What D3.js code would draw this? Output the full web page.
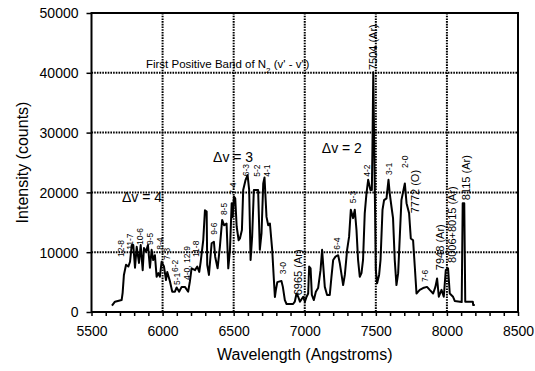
<!DOCTYPE html>
<html>
<head>
<meta charset="utf-8">
<script src="https://cdn.jsdelivr.net/npm/d3@7"></script>
<style>
  body { margin: 0; background: #fff; }
  text { font-family: "Liberation Sans", Arial, sans-serif; fill: #000; }
</style>
</head>
<body>
<div id="chart"></div>
<script>
// spectrum (wavelength in angstroms, intensity in counts)
const wavelength = [5644, 5665, 5712, 5719, 5728, 5743, 5759, 5771, 5783, 5794, 5806, 5818, 5834, 5846, 5860, 5869, 5883, 5897,
  5911, 5923, 5934, 5946, 5958, 5970, 5981, 5993, 6010, 6024, 6033, 6052, 6068, 6087, 6099, 6117, 6134, 6157, 6180, 6192,
  6204, 6228, 6244, 6258, 6268, 6286, 6298, 6310, 6314, 6326, 6345, 6361, 6370, 6387, 6403, 6419, 6433, 6450, 6462, 6474,
  6486, 6493, 6502, 6511, 6521, 6535, 6544, 6558, 6567, 6584, 6598, 6609, 6619, 6630, 6642, 6672, 6684, 6696, 6708, 6717,
  6731, 6743, 6755, 6771, 6783, 6790, 6797, 6807, 6836, 6846, 6860, 6872, 6918, 6930, 6942, 6954, 6966, 6989, 7001, 7013,
  7024, 7031, 7041, 7050, 7064, 7078, 7094, 7111, 7122, 7129, 7141, 7157, 7176, 7188, 7200, 7216, 7235, 7247, 7259, 7270,
  7282, 7298, 7312, 7324, 7340, 7352, 7364, 7375, 7387, 7399, 7410, 7422, 7434, 7446, 7462, 7472, 7476, 7482, 7489, 7500,
  7509, 7523, 7533, 7547, 7558, 7575, 7589, 7598, 7610, 7621, 7633, 7645, 7657, 7680, 7704, 7716, 7734, 7746, 7762, 7774,
  7786, 7809, 7832, 7860, 7879, 7903, 7919, 7931, 7943, 7962, 7978, 7992, 8008, 8020, 8043, 8055, 8104, 8111, 8122, 8129,
  8182, 8185, 8196];
const intensity = [1050, 1720, 2000, 3200, 6200, 7900, 7600, 8400, 11200, 11200, 7400, 10900, 8200, 11200, 7000, 10700, 10100, 11200,
  7400, 10400, 8700, 9500, 5900, 6500, 5900, 8400, 7600, 5350, 6700, 5100, 3400, 3400, 4100, 3400, 4200, 4200, 3400, 5100,
  7300, 7000, 7600, 6700, 8400, 12000, 17000, 16800, 7900, 6200, 11500, 11750, 9250, 7300, 10900, 15400, 14500, 14800, 7300, 10400,
  18200, 15900, 19300, 19000, 14300, 12000, 12300, 13700, 20400, 22100, 22900, 20400, 8700, 12600, 20400, 20400, 10400, 13200, 21500, 22500,
  15900, 14500, 14800, 10400, 5350, 2500, 3700, 5000, 5200, 4200, 2000, 1340, 1340, 1720, 3100, 2550, 1720, 2550, 1720, 2550,
  3100, 7600, 7300, 2850, 2000, 3400, 4000, 7000, 10400, 8100, 4200, 2850, 2850, 5900, 8700, 9250, 9500, 8100, 6200, 4500,
  6200, 10400, 12600, 17100, 15700, 17100, 13700, 8700, 5900, 6500, 8700, 16500, 19800, 22100, 20400, 20400, 27100, 40100, 27100, 7000,
  4800, 6200, 8700, 17100, 18700, 19000, 22100, 19800, 17600, 15700, 8700, 4500, 6500, 18700, 21500, 18200, 16500, 12300, 12000, 7600,
  3100, 3700, 4000, 4200, 3700, 3100, 4200, 5600, 2550, 3700, 2550, 7000, 7300, 3100, 2550, 1840, 1670, 18200, 18200, 1720,
  1720, 1170, 1170];

const xTicks = [5500, 6000, 6500, 7000, 7500, 8000, 8500];
const yTicks = [0, 10000, 20000, 30000, 40000, 50000];
const xGrid = [6000, 6500, 7000, 7500, 8000];
const yGrid = [10000, 20000, 30000, 40000];

// vibrational band labels (v' - v"), anchored at the bottom of the rotated text
const bandText = ['12-8', '11-7', '10-6', '9-5', '8-4', '7-3', '6-2', '5-1', '4-0, 12-9', '11-8', '9-6', '8-5', '7-4',
  '6-3', '5-2', '4-1', '3-0', '6-4', '5-3', '4-2', '3-1', '2-0', '7-6'];
const bandWl = [5707, 5774, 5844, 5915, 5981, 6031, 6087, 6101, 6171, 6235, 6361, 6431, 6492,
  6588, 6663, 6734, 6844, 7224, 7340, 7439, 7591, 7708, 7844];
const bandInt = [9200, 10400, 11200, 11200, 10400, 8700, 6700, 4500, 5350, 9200, 12900, 16200, 19600,
  22700, 22600, 22600, 6300, 10400, 18200, 22600, 22900, 24100, 5000];

// atomic line labels
const lineText = ['6965 (Ar)', '7504 (Ar)', '7772 (O)', '7948 (Ar)', '8006+8015 (Ar)', '8115 (Ar)'];
const lineWl = [6954, 7481, 7774, 7950, 8039, 8137];
const lineInt = [2800, 40450, 16500, 7000, 8200, 18700];

const groupText = ['\u0394v = 4', '\u0394v = 3', '\u0394v = 2'];
const groupWl = [5714, 6355, 7120];
const groupInt = [18400, 25100, 26600];

const W = 535, H = 371;
const margin = { top: 13, right: 17, bottom: 59, left: 91.5 };
const width = W - margin.left - margin.right;
const height = H - margin.top - margin.bottom;

const svg = d3.select('#chart').append('svg')
  .attr('width', W)
  .attr('height', H);

const g = svg.append('g')
  .attr('transform', `translate(${margin.left},${margin.top})`);

const x = d3.scaleLinear().domain([5500, 8500]).range([0, width]);
const y = d3.scaleLinear().domain([0, 50000]).range([height, 0]);

// dotted grid
g.selectAll('.vgrid').data(xGrid).enter().append('line')
  .attr('x1', d => x(d)).attr('x2', d => x(d))
  .attr('y1', 0).attr('y2', height)
  .attr('stroke', '#000').attr('stroke-width', 2).attr('stroke-dasharray', '1.6,1.1');

g.selectAll('.hgrid').data(yGrid).enter().append('line')
  .attr('x1', 0).attr('x2', width)
  .attr('y1', d => y(d)).attr('y2', d => y(d))
  .attr('stroke', '#000').attr('stroke-width', 2).attr('stroke-dasharray', '1.6,1.1');

// x axis with minor ticks every 100
const xAxis = g.append('g')
  .attr('transform', `translate(0,${height})`)
  .call(d3.axisBottom(x)
    .tickValues(d3.range(5500, 8501, 100))
    .tickSize(4)
    .tickFormat(d => xTicks.includes(d) ? d : ''));
xAxis.select('.domain').remove();
xAxis.selectAll('line').attr('stroke-width', 1.5);
xAxis.selectAll('text').attr('dy', '1.2em').style('font-size', '14px');

const yAxis = g.append('g')
  .call(d3.axisLeft(y).tickValues(yTicks).tickSize(5).tickPadding(8).tickFormat(d3.format('d')));
yAxis.select('.domain').remove();
yAxis.selectAll('line').attr('stroke-width', 1.5);
yAxis.selectAll('text').attr('dy', '0.35em').style('font-size', '14px');

// frame
g.append('rect')
  .attr('width', width).attr('height', height)
  .attr('fill', 'none').attr('stroke', '#000').attr('stroke-width', 2);

// spectrum
const pts = wavelength.map((w, i) => [w, intensity[i]]);
g.append('path')
  .datum(pts)
  .attr('fill', 'none')
  .attr('stroke', '#000')
  .attr('stroke-width', 2)
  .attr('stroke-linejoin', 'round')
  .attr('d', d3.line().x(d => x(d[0])).y(d => y(d[1])));

// annotations
g.selectAll('.band').data(bandText).enter().append('text')
  .attr('transform', (d, i) => `translate(${x(bandWl[i])},${y(bandInt[i])}) rotate(-90)`)
  .attr('dy', '0.35em')
  .style('font-size', '8.5px')
  .text(d => d);

g.selectAll('.aline').data(lineText).enter().append('text')
  .attr('transform', (d, i) => `translate(${x(lineWl[i])},${y(lineInt[i])}) rotate(-90)`)
  .attr('dy', '0.35em')
  .style('font-size', '11px')
  .text(d => d);

g.selectAll('.group').data(groupText).enter().append('text')
  .attr('x', (d, i) => x(groupWl[i]))
  .attr('y', (d, i) => y(groupInt[i]))
  .style('font-size', '14px')
  .text(d => d);

const title = g.append('text')
  .attr('x', x(5883))
  .attr('y', y(40800))
  .style('font-size', '11.5px');
title.append('tspan').text('First Positive Band of N');
title.append('tspan').attr('baseline-shift', 'sub').style('font-size', '8px').text('2');
title.append('tspan').text(' (v\' - v")');

// axis titles
svg.append('text')
  .attr('x', margin.left + width / 2)
  .attr('y', 360)
  .attr('text-anchor', 'middle')
  .style('font-size', '16px')
  .text('Wavelength (Angstroms)');

svg.append('text')
  .attr('transform', `translate(28,${margin.top + height / 2}) rotate(-90)`)
  .attr('text-anchor', 'middle')
  .style('font-size', '16px')
  .text('Intensity (counts)');
</script>
</body>
</html>
